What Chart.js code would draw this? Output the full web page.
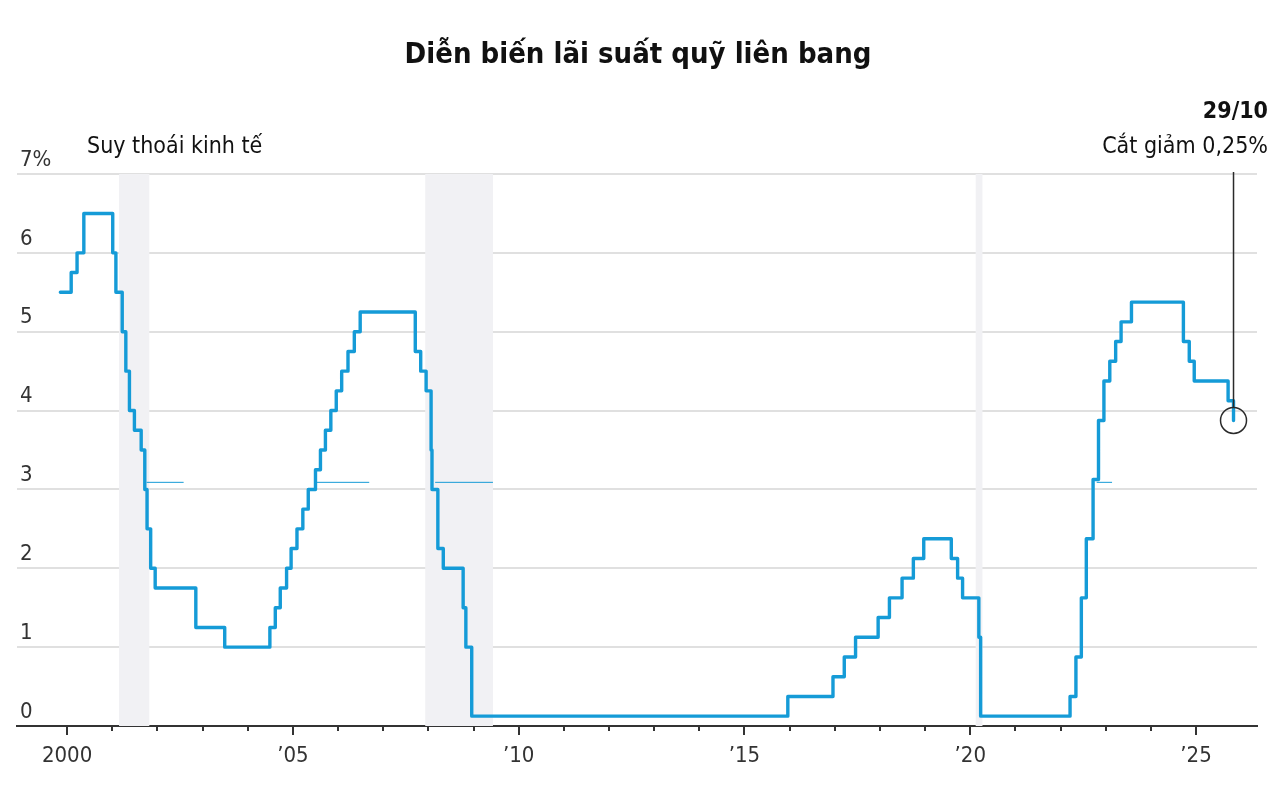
<!DOCTYPE html>
<html>
<head>
<meta charset="utf-8">
<script src="https://cdn.jsdelivr.net/npm/chart.js@4"></script>
<style>
  html, body { margin: 0; padding: 0; background: #fff; }
  #wrap { width: 1276px; height: 796px; position: relative; }
</style>
</head>
<body>
<div id="wrap"><canvas id="chart"></canvas></div>
<script>
const FONT = "'DejaVu Sans Condensed', 'DejaVu Sans', sans-serif";

// rate changes: decimal year of the change, new rate (%)
const changeDates = [
  1999.85, 2000.09, 2000.22, 2000.37, 2001.01, 2001.08, 2001.22, 2001.30, 2001.38, 2001.49,
  2001.64, 2001.72, 2001.77, 2001.85, 2001.95, 2002.85, 2003.49, 2004.49, 2004.61, 2004.72,
  2004.86, 2004.96, 2005.09, 2005.22, 2005.34, 2005.50, 2005.61, 2005.72, 2005.84, 2005.96,
  2006.08, 2006.22, 2006.36, 2006.49, 2007.71, 2007.83, 2007.95, 2008.06, 2008.08, 2008.21,
  2008.33, 2008.77, 2008.83, 2008.96, 2015.96, 2016.96, 2017.21, 2017.46, 2017.96, 2018.21,
  2018.49, 2018.74, 2018.97, 2019.58, 2019.72, 2019.83, 2020.19, 2020.23, 2022.21, 2022.34,
  2022.46, 2022.57, 2022.72, 2022.84, 2022.96, 2023.09, 2023.22, 2023.34, 2023.57, 2024.72,
  2024.85, 2024.96, 2025.71, 2025.83
];
const rateValues = [
  5.5, 5.75, 6.0, 6.5, 6.0, 5.5, 5.0, 4.5, 4.0, 3.75,
  3.5, 3.0, 2.5, 2.0, 1.75, 1.25, 1.0, 1.25, 1.5, 1.75,
  2.0, 2.25, 2.5, 2.75, 3.0, 3.25, 3.5, 3.75, 4.0, 4.25,
  4.5, 4.75, 5.0, 5.25, 4.75, 4.5, 4.25, 3.5, 3.0, 2.25,
  2.0, 1.5, 1.0, 0.125, 0.375, 0.625, 0.875, 1.125, 1.375, 1.625,
  1.875, 2.125, 2.375, 2.125, 1.875, 1.625, 1.125, 0.125, 0.375, 0.875,
  1.625, 2.375, 3.125, 3.875, 4.375, 4.625, 4.875, 5.125, 5.375, 4.875,
  4.625, 4.375, 4.125, 3.875
];

// thin stray lines seen in the picture, [start, end] years at one level
const strayStarts = [2001.76, 2005.53, 2008.15, 2022.80];
const strayEnds = [2002.58, 2006.69, 2009.43, 2023.14];
const strayLevel = 3.09;

// recessions
const recessionStarts = [2001.15, 2007.93, 2020.12];
const recessionEnds = [2001.82, 2009.43, 2020.27];

const yTicks = [0, 1, 2, 3, 4, 5, 6, 7];
const xTickYears = [];
for (let yr = 2000; yr <= 2025; yr++) xTickYears.push(yr);
const xMin = 1998.89, xMax = 2026.35;

const title = 'Diễn biến lãi suất quỹ liên bang';
const recessionLabel = 'Suy thoái kinh tế';
const noteDate = '29/10';
const noteText = 'Cắt giảm 0,25%';

const ratePoints = changeDates.map((d, i) => ({ x: d, y: rateValues[i] }));
const strayPoints = [];
strayStarts.forEach((s, i) => {
  strayPoints.push({ x: s, y: strayLevel }, { x: strayEnds[i], y: strayLevel }, { x: strayEnds[i] + 0.01, y: null });
});
const lastIdx = ratePoints.length - 1;

const decorPlugin = {
  id: 'decor',
  beforeDatasetsDraw(chart) {
    const { ctx, scales: { x, y } } = chart;
    ctx.save();
    ctx.fillStyle = '#f1f1f4';
    recessionStarts.forEach((s, i) => {
      const x0 = x.getPixelForValue(s), x1 = x.getPixelForValue(recessionEnds[i]);
      ctx.fillRect(x0, y.getPixelForValue(7), x1 - x0, y.getPixelForValue(0) - y.getPixelForValue(7));
    });
    ctx.restore();
  },
  afterDraw(chart) {
    const { ctx, scales: { x, y } } = chart;
    ctx.save();
    // x ticks, long every 5 years
    ctx.strokeStyle = '#333';
    ctx.lineWidth = 2;
    const base = y.getPixelForValue(0);
    x.ticks.forEach(t => {
      const px = Math.round(x.getPixelForValue(t.value));
      const len = t.value % 5 === 0 ? 9 : 5;
      ctx.beginPath();
      ctx.moveTo(px, base);
      ctx.lineTo(px, base + len);
      ctx.stroke();
    });
    ctx.fillStyle = '#111';
    ctx.textAlign = 'center';
    ctx.textBaseline = 'middle';
    ctx.font = 'bold 29px ' + FONT;
    ctx.fillText(title, 638, 55);
    ctx.textAlign = 'left';
    ctx.font = '23px ' + FONT;
    ctx.fillText(recessionLabel, 87, 147);
    // latest point annotation
    const pt = chart.getDatasetMeta(0).data[lastIdx];
    ctx.textAlign = 'right';
    ctx.font = 'bold 23px ' + FONT;
    ctx.fillText(noteDate, 1268, 112);
    ctx.font = '23px ' + FONT;
    ctx.fillText(noteText, 1268, 147);
    ctx.strokeStyle = '#2a2a2a';
    ctx.lineWidth = 1.5;
    ctx.beginPath();
    ctx.moveTo(pt.x, 172);
    ctx.lineTo(pt.x, pt.y - 13);
    ctx.stroke();
    ctx.beginPath();
    ctx.arc(pt.x, pt.y, 13, 0, Math.PI * 2);
    ctx.stroke();
    ctx.restore();
  }
};

new Chart(document.getElementById('chart'), {
  type: 'line',
  data: {
    datasets: [{
      data: ratePoints,
      borderColor: '#159bd7',
      borderWidth: 3.4,
      borderJoinStyle: 'round',
      borderCapStyle: 'round',
      stepped: 'before',
      pointRadius: 0,
      fill: false
    }, {
      data: strayPoints,
      borderColor: '#159bd7',
      borderWidth: 1,
      pointRadius: 0,
      spanGaps: false,
      fill: false
    }]
  },
  options: {
    responsive: true,
    maintainAspectRatio: false,
    animation: false,
    layout: { padding: { left: 17, right: 19, top: 174, bottom: 0 } },
    plugins: { legend: { display: false }, tooltip: { enabled: false }, title: { display: false } },
    scales: {
      x: {
        type: 'linear',
        min: xMin,
        max: xMax,
        afterBuildTicks: (scale) => { scale.ticks = xTickYears.map(v => ({ value: v })); },
        afterFit: (scale) => { scale.height = 70; },
        grid: { display: false, drawTicks: false },
        border: { display: true, color: '#333', width: 2 },
        ticks: {
          autoSkip: false,
          maxRotation: 0,
          includeBounds: false,
          padding: 17,
          color: '#333',
          font: { family: FONT, size: 22 },
          callback: (v) => {
            if (v % 5 !== 0) return '';
            return v === 2000 ? '2000' : '\u2019' + String(v).slice(2);
          }
        }
      },
      y: {
        min: 0,
        max: 7,
        afterBuildTicks: (scale) => { scale.ticks = yTicks.map(v => ({ value: v })); },
        afterFit: (scale) => { scale.width = 0; },
        grid: { color: '#e0e0e0', lineWidth: 2, drawTicks: false },
        border: { display: false },
        ticks: {
          mirror: true,
          padding: 3,
          labelOffset: -14,
          color: '#333',
          font: { family: FONT, size: 22 },
          callback: (v) => v === 7 ? '7%' : String(v)
        }
      }
    }
  },
  plugins: [decorPlugin]
});
</script>
</body>
</html>
